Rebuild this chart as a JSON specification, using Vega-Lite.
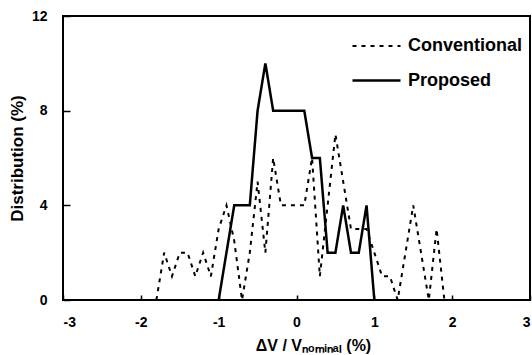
{
  "$schema": "https://vega.github.io/schema/vega-lite/v6.json",
  "autosize": "none",
  "width": 467,
  "height": 284,
  "padding": {"left": 63, "top": 16, "right": 2, "bottom": 55},
  "background": "white",
  "config": {
    "view": {"stroke": "black", "strokeWidth": 2},
    "font": "Liberation Sans",
    "axis": {"grid": false, "domain": false, "labelFont": "Liberation Sans", "labelFontWeight": "bold", "labelFontSize": 14, "labelColor": "black", "titleFont": "Liberation Sans", "titleFontWeight": "bold", "titleFontSize": 16, "titleColor": "black", "tickColor": "black", "tickWidth": 1.5, "labelExpr": "replace(datum.label, '−', '-')"}
  },
  "data": {"values": [
    {"x": -1.8, "y": 0, "s": "Conventional"},
    {"x": -1.7, "y": 2, "s": "Conventional"},
    {"x": -1.6, "y": 1, "s": "Conventional"},
    {"x": -1.5, "y": 2, "s": "Conventional"},
    {"x": -1.4, "y": 2, "s": "Conventional"},
    {"x": -1.3, "y": 1, "s": "Conventional"},
    {"x": -1.2, "y": 2, "s": "Conventional"},
    {"x": -1.1, "y": 1, "s": "Conventional"},
    {"x": -1.0, "y": 3, "s": "Conventional"},
    {"x": -0.9, "y": 4, "s": "Conventional"},
    {"x": -0.8, "y": 2.5, "s": "Conventional"},
    {"x": -0.7, "y": 0, "s": "Conventional"},
    {"x": -0.6, "y": 2, "s": "Conventional"},
    {"x": -0.5, "y": 5, "s": "Conventional"},
    {"x": -0.4, "y": 2, "s": "Conventional"},
    {"x": -0.3, "y": 6, "s": "Conventional"},
    {"x": -0.2, "y": 4, "s": "Conventional"},
    {"x": -0.1, "y": 4, "s": "Conventional"},
    {"x": 0.0, "y": 4, "s": "Conventional"},
    {"x": 0.1, "y": 4, "s": "Conventional"},
    {"x": 0.2, "y": 6, "s": "Conventional"},
    {"x": 0.3, "y": 1, "s": "Conventional"},
    {"x": 0.4, "y": 4, "s": "Conventional"},
    {"x": 0.5, "y": 7, "s": "Conventional"},
    {"x": 0.6, "y": 5, "s": "Conventional"},
    {"x": 0.7, "y": 3, "s": "Conventional"},
    {"x": 0.8, "y": 3, "s": "Conventional"},
    {"x": 0.9, "y": 3, "s": "Conventional"},
    {"x": 1.0, "y": 2, "s": "Conventional"},
    {"x": 1.1, "y": 1, "s": "Conventional"},
    {"x": 1.2, "y": 1, "s": "Conventional"},
    {"x": 1.3, "y": 0, "s": "Conventional"},
    {"x": 1.4, "y": 2, "s": "Conventional"},
    {"x": 1.5, "y": 4, "s": "Conventional"},
    {"x": 1.6, "y": 2, "s": "Conventional"},
    {"x": 1.7, "y": 0, "s": "Conventional"},
    {"x": 1.8, "y": 3, "s": "Conventional"},
    {"x": 1.9, "y": 0, "s": "Conventional"},
    {"x": -1.0, "y": 0, "s": "Proposed"},
    {"x": -0.9, "y": 2, "s": "Proposed"},
    {"x": -0.8, "y": 4, "s": "Proposed"},
    {"x": -0.7, "y": 4, "s": "Proposed"},
    {"x": -0.6, "y": 4, "s": "Proposed"},
    {"x": -0.5, "y": 8, "s": "Proposed"},
    {"x": -0.4, "y": 10, "s": "Proposed"},
    {"x": -0.3, "y": 8, "s": "Proposed"},
    {"x": -0.2, "y": 8, "s": "Proposed"},
    {"x": -0.1, "y": 8, "s": "Proposed"},
    {"x": 0.0, "y": 8, "s": "Proposed"},
    {"x": 0.1, "y": 8, "s": "Proposed"},
    {"x": 0.2, "y": 6, "s": "Proposed"},
    {"x": 0.3, "y": 6, "s": "Proposed"},
    {"x": 0.4, "y": 2, "s": "Proposed"},
    {"x": 0.5, "y": 2, "s": "Proposed"},
    {"x": 0.6, "y": 4, "s": "Proposed"},
    {"x": 0.7, "y": 2, "s": "Proposed"},
    {"x": 0.8, "y": 2, "s": "Proposed"},
    {"x": 0.9, "y": 4, "s": "Proposed"},
    {"x": 1.0, "y": 0, "s": "Proposed"}
  ]},
  "mark": {"type": "line", "color": "black"},
  "encoding": {
    "x": {"field": "x", "type": "quantitative", "scale": {"domain": [-3, 3], "nice": false, "zero": false},
      "axis": {"values": [-3, -2, -1, 0, 1, 2, 3], "tickSize": -5, "labelPadding": 20, "title": "ΔV / Vₙₒₘᵢₙₐₗ (%)", "titlePadding": 8, "titleX": 250, "titleAlign": "center"}},
    "y": {"field": "y", "type": "quantitative", "scale": {"domain": [0, 12], "nice": false},
      "axis": {"values": [0, 4, 8, 12], "tickSize": -7, "labelPadding": 23, "title": "Distribution (%)", "titleX": -46, "titleY": 142, "titleAlign": "center", "titleBaseline": "middle", "titleAngle": -90, "titleFontSize": 17}},
    "strokeDash": {"field": "s", "type": "nominal", "scale": {"domain": ["Conventional", "Proposed"], "range": [[4, 5], [1, 0]]},
      "legend": {"title": null, "orient": "none", "legendX": 288, "legendY": 5, "symbolType": "stroke", "symbolSize": 2304, "symbolStrokeColor": "black", "symbolStrokeWidth": 2, "labelFontSize": 18, "labelFontWeight": "bold", "labelColor": "black", "labelFont": "Liberation Sans", "rowPadding": -25, "labelOffset": 6}},
    "strokeWidth": {"field": "s", "type": "nominal", "scale": {"domain": ["Conventional", "Proposed"], "range": [2, 2.5]}, "legend": null}
  }
}
